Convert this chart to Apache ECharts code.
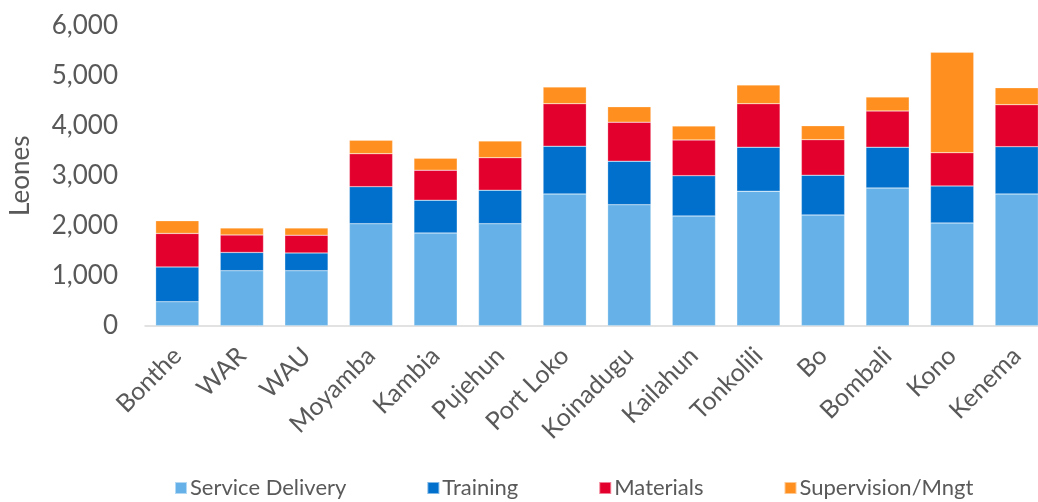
<!DOCTYPE html>
<html>
<head>
<meta charset="utf-8">
<script src="https://cdn.jsdelivr.net/npm/echarts@6/dist/echarts.min.js"></script>
<style>
html,body{margin:0;padding:0;background:#fff;}
#chart{width:1038px;height:502px;}
</style>
</head>
<body>
<div id="chart"></div>
<script>
const categories = ["Bonthe","WAR","WAU","Moyamba","Kambia","Pujehun","Port Loko","Koinadugu","Kailahun","Tonkolili","Bo","Bombali","Kono","Kenema"];
const serviceDelivery = [480,1100,1100,2040,1855,2040,2635,2420,2195,2690,2215,2755,2055,2635];
const training =        [695,365,355,740,655,670,955,870,805,880,795,815,740,945];
const materials =       [670,350,355,660,600,650,850,780,715,870,710,725,665,840];
const supervision =     [255,140,145,270,240,335,335,310,280,375,280,280,2010,340];
const yTicks = [0,1000,2000,3000,4000,5000,6000];

const FONT = 'Lato';
const TXT = '#595959';
const names = ['Service Delivery','Training','Materials','Supervision/Mngt'];
const colors = ['#66B2E8','#0070CC','#E3002C','#FF9020'];
const data = [serviceDelivery, training, materials, supervision];

const chart = echarts.init(document.getElementById('chart'));
chart.setOption({
  animation: false,
  backgroundColor: '#fff',
  grid: { left: 145, width: 904, top: 25.7, height: 300, containLabel: false, outerBoundsMode: 'none' },
  legend: {
    bottom: -2,
    left: 169,
    itemWidth: 12,
    itemHeight: 12,
    itemGap: 80,
    icon: 'rect',
    textStyle: { fontFamily: FONT, fontSize: 22, color: TXT, padding: [0,0,0,-2] },
    data: names
  },
  xAxis: {
    type: 'category',
    data: categories,
    axisLine: { show: true, lineStyle: { color: '#D9D9D9', width: 1.5 } },
    axisTick: { show: false },
    axisLabel: { rotate: 45, interval: 0, margin: 26, fontFamily: FONT, fontSize: 25, color: TXT }
  },
  yAxis: {
    type: 'value',
    min: yTicks[0],
    max: yTicks[yTicks.length-1],
    interval: 1000,
    name: 'Leones',
    nameLocation: 'middle',
    nameGap: 111,
    nameTextStyle: { fontFamily: FONT, fontSize: 26, color: TXT },
    splitLine: { show: false },
    axisLine: { show: false },
    axisTick: { show: false },
    axisLabel: {
      margin: 27, fontFamily: FONT, fontSize: 26, color: TXT,
      formatter: v => v.toLocaleString('en-US')
    }
  },
  series: names.map((n, i) => ({
    name: n,
    type: 'bar',
    stack: 'total',
    data: data[i],
    barCategoryGap: '33%',
    itemStyle: { color: colors[i], borderColor: 'rgba(255,255,255,0.5)', borderWidth: 0.5 }
  }))
});
</script>
</body>
</html>
